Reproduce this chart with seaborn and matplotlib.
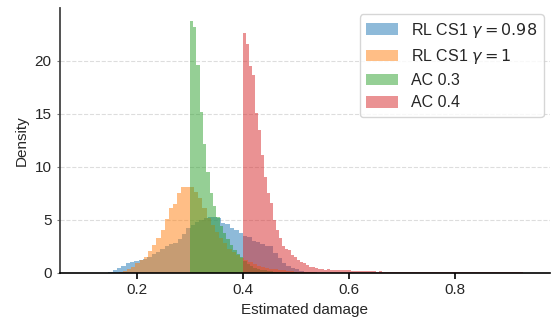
import numpy as np
import pandas as pd
import matplotlib
matplotlib.use("Agg")
import matplotlib.pyplot as plt
import seaborn as sns

# ---- data: per-series histogram bins (start, width) and densities ----
labels = [r"RL CS1 $\gamma = 0.98$", r"RL CS1 $\gamma = 1$", "AC 0.3", "AC 0.4"]

blue_start, blue_width = 0.146, 0.0082
blue_heights = [0.13, 0.3, 0.5, 0.66, 0.9, 1.07, 1.13, 1.2,
                1.3, 1.5, 1.75, 2.0, 2.3, 2.55, 2.7, 2.85, 3.2, 3.7, 4.2,
                4.5, 4.8, 5.0, 5.2,
                5.3, 5.25, 5.2, 4.7, 4.6, 4.2, 4.05, 3.8,
                3.5, 3.4, 3.0, 2.9, 2.7, 2.5, 2.5, 1.85, 1.4, 0.97, 0.66, 0.44,
                0.35, 0.2, 0.12, 0.08, 0.05, 0.03]

orange_start, orange_width = 0.1657, 0.0079
orange_heights = [0.1, 0.2, 0.35, 0.6, 0.9, 1.2, 1.5, 2.1, 2.6, 3.3, 4.1, 5.1,
                  6.1, 6.5, 7.5, 8.1, 8.1,
                  8.1, 7.6, 7.1, 6.1, 5.2, 4.5, 3.9, 3.3, 2.8, 2.3, 2.0, 1.7,
                  1.4, 1.2, 1.0, 0.85, 0.7, 0.6, 0.5, 0.4, 0.35, 0.3, 0.25, 0.2,
                  0.15, 0.12, 0.1, 0.08, 0.06, 0.05, 0.04, 0.03]

green_start, green_width = 0.30, 0.0063
green_heights = [23.8, 23.2, 19.6, 15.2, 12.2, 9.5, 7.5, 6.3, 5.3, 4.4, 3.8,
                 3.2, 2.6, 2.2, 1.8, 1.5,
                 1.1, 0.85, 0.65, 0.5, 0.4, 0.3, 0.25, 0.2, 0.15, 0.12, 0.1,
                 0.08, 0.07, 0.06, 0.05, 0.05, 0.04, 0.04, 0.03, 0.03, 0.02,
                 0.02, 0.02, 0.02]

red_start, red_width = 0.40, 0.0057
red_heights = [22.6, 21.6, 19.5, 18.7, 15.1, 13.5, 11.1, 9.1, 7.5,
               6.6, 5.0, 4.1, 3.3, 2.5, 2.3, 2.2, 1.7, 1.55, 1.2, 1.05, 0.95,
               0.75, 0.6, 0.55, 0.45, 0.4, 0.35, 0.33, 0.35, 0.3, 0.32, 0.28,
               0.3, 0.27, 0.25, 0.27, 0.22, 0.2, 0.22, 0.18, 0.2, 0.16, 0.18,
               0.15, 0.14, 0.16, 0.13, 0.12, 0.14, 0.11, 0.12, 0.1, 0.12, 0.1,
               0.11, 0.09, 0.1, 0.09, 0.1, 0.08, 0.09, 0.08, 0.09, 0.08,
               0.07, 0.09, 0.07, 0.08, 0.09, 0.07, 0.08, 0.07, 0.06, 0.08,
               0.07, 0.06, 0.08, 0.07, 0.06, 0.07, 0.06, 0.07, 0.06, 0.06,
               0.07, 0.05, 0.06, 0.06, 0.05, 0.06, 0.05, 0.05, 0.05]

yticks = [0, 5, 10, 15, 20]
xticks = [0.2, 0.4, 0.6, 0.8]

series = [
    (blue_start, blue_width, blue_heights),
    (orange_start, orange_width, orange_heights),
    (green_start, green_width, green_heights),
    (red_start, red_width, red_heights),
]
colors = ["#1f77b4", "#ff7f0e", "#2ca02c", "#d62728"]

sns.set_style("ticks")
plt.rcParams["font.family"] = ["Liberation Sans", "DejaVu Sans"]
plt.rcParams["mathtext.fontset"] = "dejavusans"

fig = plt.figure(figsize=(5.51, 3.25), dpi=100)
ax = fig.add_axes([0.109, 0.16, 0.889, 0.8154])

for (start, width, heights), color, label in zip(series, colors, labels):
    n = len(heights)
    centers = start + width * (np.arange(n) + 0.5)
    df = pd.DataFrame({"x": centers, "h": heights})
    sns.histplot(data=df, x="x", weights="h", binwidth=width,
                 binrange=(start, start + width * n), stat="count",
                 color=color, alpha=0.5, linewidth=0,
                 label=label, ax=ax)

ax.set_xlim(0.055, 0.98)
ax.set_ylim(0, 25)
ax.set_xticks(xticks)
ax.set_yticks(yticks)
ax.set_xticklabels([f"{t:.1f}" for t in xticks])
ax.set_xlabel("Estimated damage", fontsize=11)
ax.set_ylabel("Density", fontsize=11)
ax.tick_params(axis="both", labelsize=11)
ax.tick_params(axis="x", length=4, width=1.2, color="black")
ax.tick_params(axis="y", length=2.5, width=0.8, color="#777777")
ax.yaxis.grid(True, linestyle="--", color="#dddddd", linewidth=0.8)
ax.set_axisbelow(True)
sns.despine(ax=ax)
ax.spines["left"].set_color("#444444")
ax.spines["left"].set_linewidth(1.3)
ax.spines["bottom"].set_color("black")
ax.spines["bottom"].set_linewidth(1.2)

ax.legend(loc="upper right", fontsize=11.5, frameon=True, framealpha=0.8,
          edgecolor="#cccccc", borderaxespad=0.4, handlelength=2.0,
          handleheight=0.75, labelspacing=0.45, handletextpad=0.8)

fig.savefig("out.png", dpi=100)
